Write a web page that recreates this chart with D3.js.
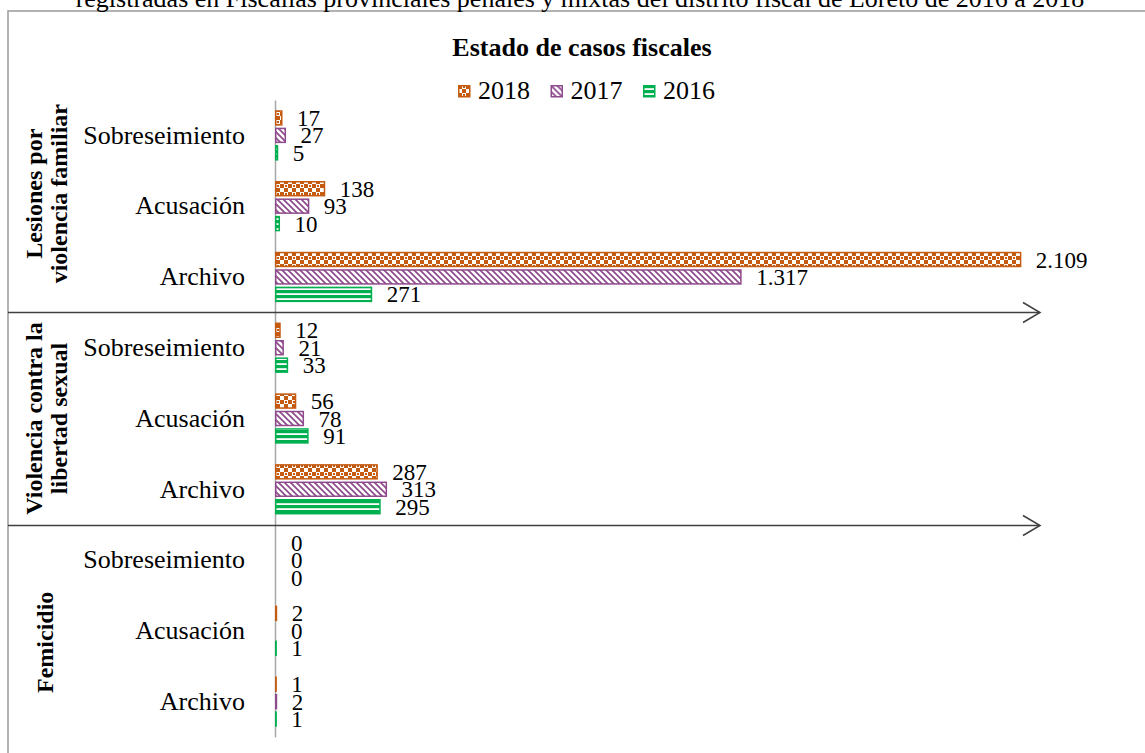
<!DOCTYPE html>
<html><head><meta charset="utf-8">
<script src="https://cdn.jsdelivr.net/npm/d3@7"></script>
<style>
body{margin:0;background:#fff}
svg{display:block}
text{font-family:"Liberation Serif","Times New Roman",serif;fill:#000}
</style>
</head><body>
<svg id="c" width="1145" height="753"></svg>
<script>
// ---------- data ----------
const groupLines = [["Lesiones por","violencia familiar"],["Violencia contra la","libertad sexual"],["Femicidio"]];
const categories = ["Sobreseimiento","Acusación","Archivo"];
const years = ["2018","2017","2016"];
const values2018 = [17,138,2109, 12,56,287, 0,2,1];
const values2017 = [27,93,1317, 21,78,313, 0,0,2];
const values2016 = [5,10,271, 33,91,295, 0,1,1];
const topText = "registradas en Fiscalías provinciales penales y mixtas del distrito fiscal de Loreto de 2016 a 2018";
const titleText = "Estado de casos fiscales";
const colors = {"2018":"#c55a11","2017":"#8e4a8c","2016":"#00b050"};

const series = [
  {year:"2018", values:values2018},
  {year:"2017", values:values2017},
  {year:"2016", values:values2016}
];
const rows = [];
groupLines.forEach((g,gi)=>categories.forEach((c,ci)=>rows.push({id:gi+"-"+ci, g:gi, cat:c, idx:gi*3+ci})));

const svg = d3.select("#c");

// ---------- patterns ----------
const defs = svg.append("defs");
const p18 = defs.append("pattern").attr("id","p2018").attr("patternUnits","userSpaceOnUse").attr("width",8).attr("height",8);
p18.append("rect").attr("width",8).attr("height",8).attr("fill","#fff");
p18.append("rect").attr("x",0).attr("y",0).attr("width",4).attr("height",4).attr("fill",colors["2018"]);
p18.append("rect").attr("x",4).attr("y",4).attr("width",4).attr("height",4).attr("fill",colors["2018"]);
p18.append("rect").attr("x",5).attr("y",1).attr("width",2).attr("height",2).attr("fill",colors["2018"]);
const p17 = defs.append("pattern").attr("id","p2017").attr("patternUnits","userSpaceOnUse").attr("width",6).attr("height",6);
p17.append("rect").attr("width",6).attr("height",6).attr("fill","#fff");
p17.append("path").attr("d","M-1,-1L7,7M-1,5L1,7M5,-1L7,1").attr("stroke",colors["2017"]).attr("stroke-width",1.7);
const p16 = defs.append("pattern").attr("id","p2016").attr("patternUnits","userSpaceOnUse").attr("width",6).attr("height",5);
p16.append("rect").attr("width",6).attr("height",5).attr("fill","#fff");
p16.append("rect").attr("y",0).attr("width",6).attr("height",3.2).attr("fill",colors["2016"]);

// ---------- frame & header ----------
svg.append("rect").attr("x",8).attr("y",11).attr("width",1200).attr("height",800)
  .attr("fill","none").attr("stroke","#a0a0a0").attr("stroke-width",1.6);
svg.append("text").attr("x",580).attr("y",7).attr("text-anchor","middle").style("font-size","26px").text(topText);
svg.append("text").attr("x",582).attr("y",56).attr("text-anchor","middle").style("font-size","26px").style("font-weight","bold").text(titleText);

// legend
const leg = svg.append("g").attr("transform","translate(458,85)");
years.forEach((yr,i)=>{
  const gi = leg.append("g").attr("transform",`translate(${i*92.5},0)`);
  gi.append("rect").attr("x",0.75).attr("y",0.75).attr("width",11).attr("height",11)
    .attr("fill",`url(#p${yr})`).attr("stroke",colors[yr]).attr("stroke-width",1.5);
  gi.append("text").attr("x",20).attr("y",14).style("font-size","26px").text(yr);
});

// ---------- scales ----------
const x = d3.scaleLinear().domain([0,2200]).range([275,1052]);
const y = d3.scaleBand().domain(rows.map(r=>r.id)).range([100,737]).paddingInner(0).paddingOuter(0);
const y1 = d3.scaleBand().domain(years).range([0,y.bandwidth()]).paddingInner(0.2).paddingOuter(0.63);
const fmt = d3.formatLocale({decimal:",",thousands:".",grouping:[3],currency:["","€"]}).format(",");

// ---------- category axis ----------
const ax = svg.append("g").attr("transform",`translate(${x(0)},0)`)
  .call(d3.axisLeft(y).tickSize(0).tickSizeOuter(0).tickPadding(30)
    .tickFormat(id=>rows.find(r=>r.id===id).cat));
ax.select(".domain").attr("stroke","#a6a6a6").attr("stroke-width",1.5);
ax.selectAll("text").style("font-size","26px").style("font-family","'Liberation Serif','Times New Roman',serif").attr("fill","#000");

// ---------- section separators with arrows ----------
const bounds = [y(rows[3].id), y(rows[6].id)];
bounds.forEach(b=>{
  const yy = Math.round(b)+0.5;
  svg.append("line").attr("x1",8).attr("x2",1040).attr("y1",yy).attr("y2",yy).attr("stroke","#404040").attr("stroke-width",1.5);
  svg.append("path").attr("d",`M1023,${yy-10}L1040,${yy}L1023,${yy+10}`).attr("fill","none").attr("stroke","#404040").attr("stroke-width",1.5);
});

// ---------- bars ----------
const barData = [];
rows.forEach(r=>series.forEach(s=>barData.push({row:r.id, year:s.year, v:s.values[r.idx]})));
svg.append("g").selectAll("rect").data(barData.filter(d=>d.v>0)).join("rect")
  .attr("x",x(0)+0.75)
  .attr("y",d=>y(d.row)+y1(d.year))
  .attr("width",d=>Math.max(0.1,x(d.v)-x(0)))
  .attr("height",y1.bandwidth())
  .attr("fill",d=>`url(#p${d.year})`)
  .attr("stroke",d=>colors[d.year]).attr("stroke-width",1.5);

svg.append("g").selectAll("text").data(barData).join("text")
  .attr("x",d=>x(d.v)+16)
  .attr("y",d=>y(d.row)+y1(d.year)+y1.bandwidth()/2)
  .attr("dy","0.35em")
  .style("font-size","23px")
  .text(d=>fmt(d.v));

// ---------- group labels (rotated) ----------
const outerTop = 75, outerBottom = 760;
const secBounds = [outerTop, bounds[0], bounds[1], outerBottom];
groupLines.forEach((lines,gi)=>{
  const cy = (secBounds[gi]+secBounds[gi+1])/2;
  const t = svg.append("text").attr("transform",`translate(49,${cy}) rotate(-90)`)
    .attr("text-anchor","middle").style("font-size","24px").style("font-weight","bold");
  const offs = lines.length===2 ? [-7,18] : [4];
  lines.forEach((ln,li)=>t.append("tspan").attr("x",0).attr("y",offs[li]).text(ln));
});
</script>
</body></html>
